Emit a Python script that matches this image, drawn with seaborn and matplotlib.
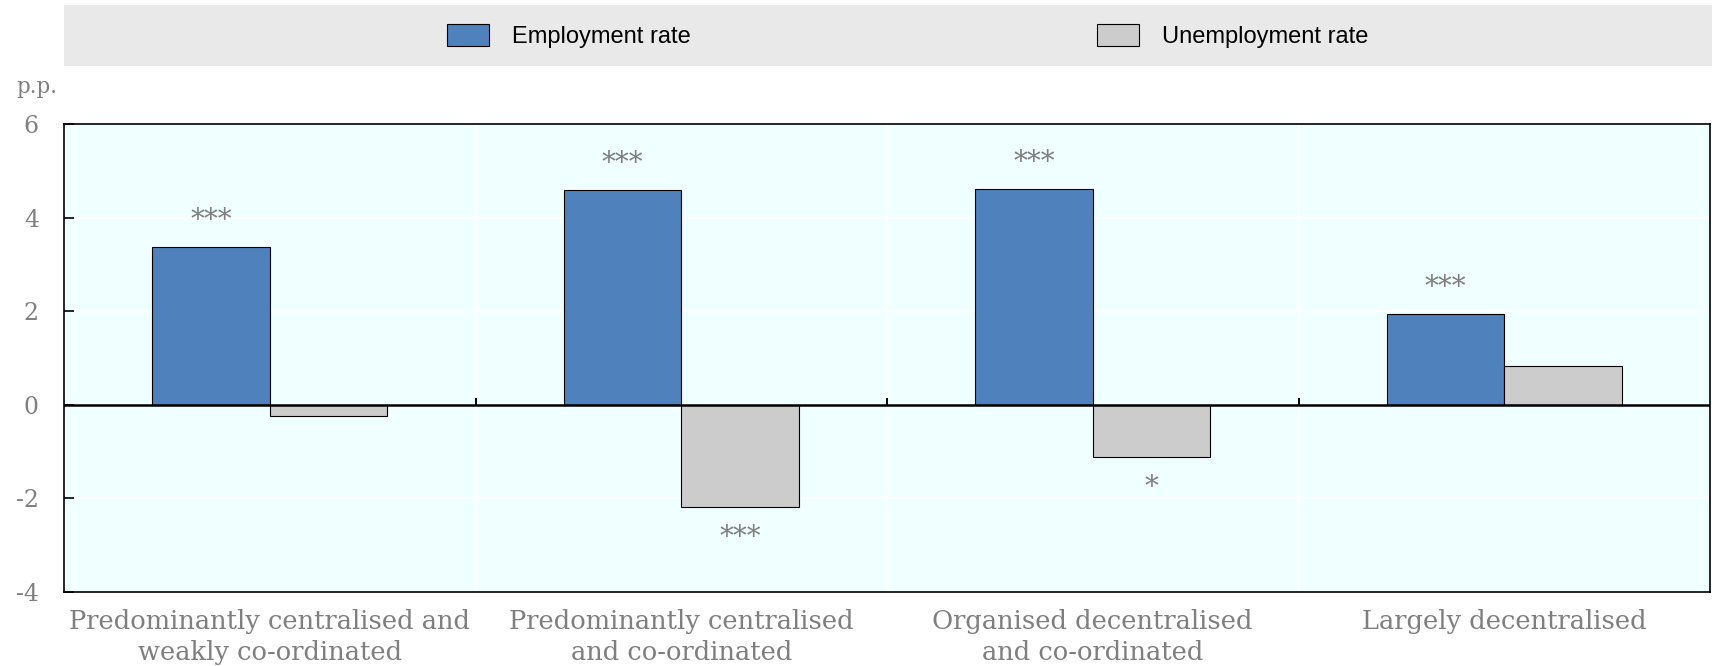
import matplotlib
matplotlib.use("Agg")
import matplotlib.pyplot as plt
import seaborn as sns
import pandas as pd
from matplotlib.patches import Rectangle

# Bargaining-system categories and estimated effects (percentage points)
categories = [
    "Predominantly centralised and\nweakly co-ordinated",
    "Predominantly centralised\nand co-ordinated",
    "Organised decentralised\nand co-ordinated",
    "Largely decentralised",
]
series = ["Employment rate", "Unemployment rate"]
employment = [3.37, 4.59, 4.61, 1.93]
unemployment = [-0.23, -2.19, -1.11, 0.83]
employment_sig = ["***", "***", "***", "***"]
unemployment_sig = ["", "***", "*", ""]
y_ticks = [-4, -2, 0, 2, 4, 6]

palette = {"Employment rate": "#4F81BD", "Unemployment rate": "#CCCCCC"}
GREY_TEXT = "#7F7F7F"

sns.set_theme(style="white")
plt.rcParams["font.family"] = ["DejaVu Serif"]
plt.rcParams["axes.unicode_minus"] = False

df = pd.DataFrame({
    "category": categories * 2,
    "series": [series[0]] * len(categories) + [series[1]] * len(categories),
    "value": employment + unemployment,
})

W, H = 1712, 666
fig = plt.figure(figsize=(W / 100, H / 100), dpi=100)
ax = fig.add_axes([64 / W, 74 / H, 1646 / W, 468 / H])
ax.set_facecolor("#F0FFFF")

sns.barplot(
    data=df, x="category", y="value", hue="series", hue_order=series,
    order=categories, palette=palette, saturation=1, width=0.57, gap=0,
    edgecolor="black", linewidth=0.8, errorbar=None, ax=ax,
)

ymin, ymax = y_ticks[0], y_ticks[-1]
ax.set_ylim(ymin, ymax)
ax.set_xlim(-0.5, len(categories) - 0.5)
ax.set_yticks(y_ticks)
ax.set_xlabel("")
ax.set_ylabel("")

# White grid: horizontal at each tick, vertical between categories
boundaries = [i + 0.5 for i in range(len(categories) - 1)]
ax.set_xticks(boundaries, minor=True)
ax.set_axisbelow(True)
ax.yaxis.grid(True, color="white", linewidth=1.5)
ax.xaxis.grid(True, which="minor", color="white", linewidth=1.5)
ax.xaxis.grid(False, which="major")

for s in ax.spines.values():
    s.set_visible(True)
    s.set_color("black")
    s.set_linewidth(1.2)

ax.tick_params(axis="y", direction="in", length=7, width=1.2, color="black",
               labelcolor=GREY_TEXT, labelsize=17, pad=18, left=True)
ax.tick_params(axis="x", which="both", length=0, labelcolor=GREY_TEXT,
               labelsize=18.5, pad=12)
for t in ax.get_xticklabels():
    t.set_linespacing(1.3)

# Zero line with short upward ticks between categories
ax.axhline(0, color="black", linewidth=1.8, zorder=3)
ax.vlines(boundaries, 0, 0.14, color="black", linewidth=1.4, zorder=3)

# Significance markers
for container, values, sig in zip(ax.containers, [employment, unemployment],
                                  [employment_sig, unemployment_sig]):
    for bar, v, s in zip(container, values, sig):
        if not s:
            continue
        xc = bar.get_x() + bar.get_width() / 2
        if v >= 0:
            ax.text(xc, v + 0.28, s, ha="center", va="bottom",
                    color=GREY_TEXT, fontsize=20)
        else:
            ax.text(xc, v - 0.36, s, ha="center", va="top",
                    color=GREY_TEXT, fontsize=20)

# Legend band across the top
handles, labels = ax.get_legend_handles_labels()
if ax.get_legend() is not None:
    ax.get_legend().remove()
fig.patches.append(Rectangle((64 / W, 1 - 66 / H), 1 - 64 / W, 61 / H,
                             transform=fig.transFigure, facecolor="#E9E9E9",
                             edgecolor="none", zorder=0))
leg = fig.legend(handles, labels, loc="center", bbox_to_anchor=(908 / W, 1 - 36 / H),
                 ncol=2, frameon=False,
                 prop={"family": ["Liberation Sans Narrow", "Liberation Sans"], "size": 17},
                 handlelength=1.75, handleheight=1.1, handletextpad=1.0,
                 columnspacing=17.2)
for t in leg.get_texts():
    t.set_color("black")

fig.text(16 / W, 1 - 87 / H, "p.p.", ha="left", va="center",
         color=GREY_TEXT, fontsize=15.5)

fig.savefig("out.png", dpi=100)
